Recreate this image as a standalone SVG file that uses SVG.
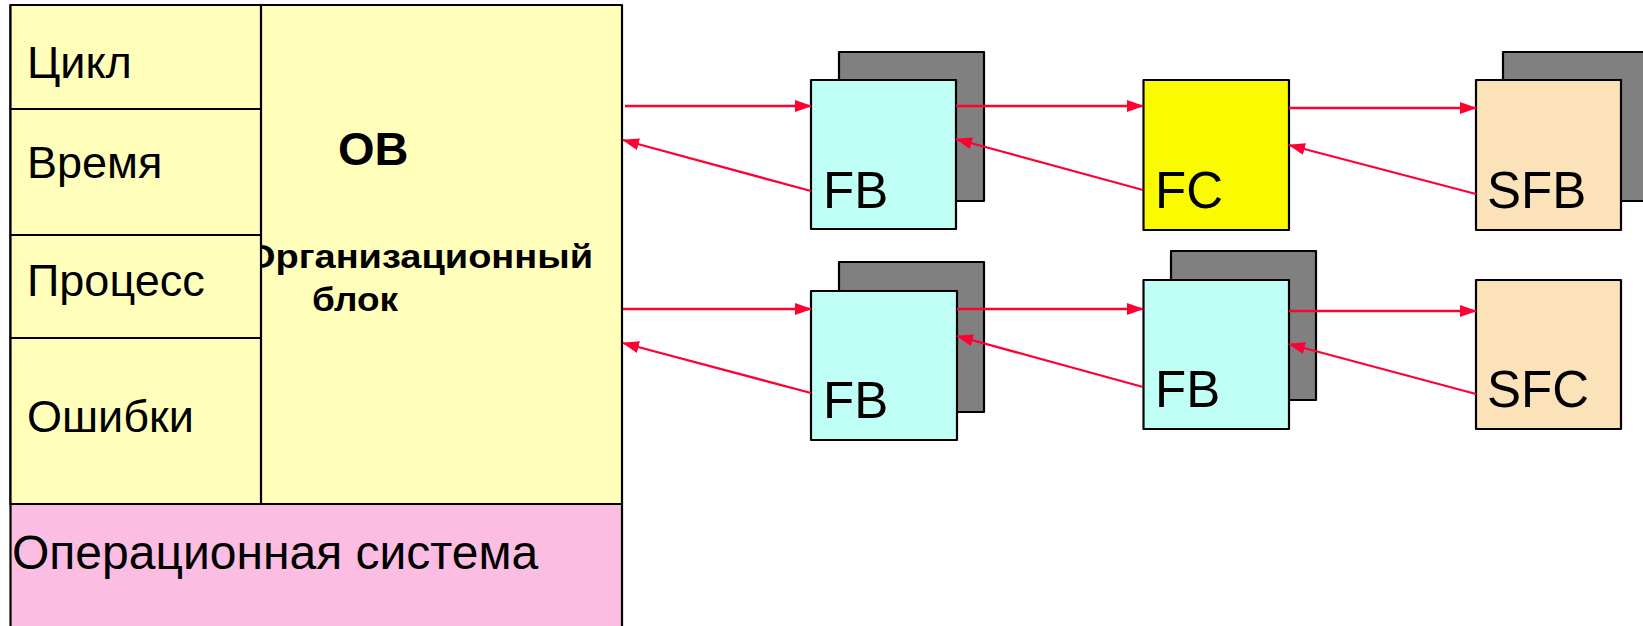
<svg xmlns="http://www.w3.org/2000/svg" width="1643" height="626" viewBox="0 0 1643 626">
  <style>
    .box { stroke: #000; stroke-width: 2.2; stroke-linejoin: round; }
    .cell { fill: #FFFFBB; }
    .os { fill: #FBBDE1; }
    .shadow { fill: #808080; }
    .fb { fill: #C0FFF6; }
    .fc { fill: #FAFA00; }
    .sys { fill: #FCE2B9; }
    .lbl { font-family: "Liberation Sans", Arial, sans-serif; font-size: 45px; fill: #000; }
    .oslbl { font-family: "Liberation Sans", Arial, sans-serif; font-size: 48px; fill: #000; }
    .blk { font-family: "Liberation Sans", Arial, sans-serif; font-size: 51px; fill: #000; }
    .bold { font-family: "Liberation Sans", Arial, sans-serif; font-weight: bold; fill: #000; }
    .wire { stroke: #FF0033; stroke-width: 2.3; fill: none; marker-end: url(#tip); }
  </style>
  <defs>
    <marker id="tip" viewBox="0 0 17 12" refX="16" refY="6" markerWidth="17" markerHeight="12" markerUnits="userSpaceOnUse" orient="auto">
      <path d="M0,0 L17,6 L0,12 z" fill="#FF0033"/>
    </marker>
  </defs>

  <rect width="1643" height="626" fill="#fff"/>

  <!-- Organisation block -->
  <g id="ob">
    <rect class="box cell" x="10.5" y="5" width="611.5" height="499"/>
    <text class="bold" x="338" y="165" font-size="47">OB</text>
    <text class="bold" x="246" y="268" font-size="34" textLength="347" lengthAdjust="spacingAndGlyphs">Организационный</text>
    <text class="bold" x="312" y="311" font-size="34" textLength="86" lengthAdjust="spacingAndGlyphs">блок</text>
  </g>

  <!-- Start-event cells -->
  <g id="cycle">
    <rect class="box cell" x="10.5" y="5" width="250.5" height="104"/>
    <text class="lbl" x="27" y="78">Цикл</text>
  </g>
  <g id="time">
    <rect class="box cell" x="10.5" y="109" width="250.5" height="126"/>
    <text class="lbl" x="27" y="178">Время</text>
  </g>
  <g id="process">
    <rect class="box cell" x="10.5" y="235" width="250.5" height="103"/>
    <text class="lbl" x="27" y="296">Процесс</text>
  </g>
  <g id="errors">
    <rect class="box cell" x="10.5" y="338" width="250.5" height="166"/>
    <text class="lbl" x="27" y="432">Ошибки</text>
  </g>

  <!-- Operating system -->
  <g id="os">
    <rect class="box os" x="10.5" y="504" width="611.5" height="140"/>
    <text class="oslbl" x="12" y="569">Операционная система</text>
  </g>

  <!-- Upper chain -->
  <g id="fb1">
    <rect class="box shadow" x="839" y="52" width="145" height="149"/>
    <rect class="box fb" x="811" y="80" width="145" height="149"/>
    <text class="blk" x="823" y="208">FB</text>
  </g>
  <g id="fc">
    <rect class="box fc" x="1143.5" y="80" width="145.5" height="150"/>
    <text class="blk" x="1155" y="208">FC</text>
  </g>
  <g id="sfb">
    <rect class="box shadow" x="1503" y="52" width="145" height="149"/>
    <rect class="box sys" x="1476" y="80" width="145" height="150"/>
    <text class="blk" x="1487" y="208">SFB</text>
  </g>

  <!-- Lower chain -->
  <g id="fb2">
    <rect class="box shadow" x="839" y="262" width="145" height="150"/>
    <rect class="box fb" x="811" y="291" width="146" height="149"/>
    <text class="blk" x="823" y="418">FB</text>
  </g>
  <g id="fb3">
    <rect class="box shadow" x="1171" y="251" width="145" height="149"/>
    <rect class="box fb" x="1143.5" y="280" width="145.5" height="149"/>
    <text class="blk" x="1155" y="407">FB</text>
  </g>
  <g id="sfc">
    <rect class="box sys" x="1476" y="280" width="145" height="149"/>
    <text class="blk" x="1487" y="407">SFC</text>
  </g>

  <!-- Calls and returns -->
  <g id="connectors">
    <line class="wire" x1="625" y1="106" x2="811" y2="106"/>
    <line class="wire" x1="811" y1="191" x2="623" y2="140"/>
    <line class="wire" x1="956" y1="106" x2="1143" y2="106"/>
    <line class="wire" x1="1143" y1="190" x2="956" y2="139"/>
    <line class="wire" x1="1289" y1="108" x2="1476" y2="108"/>
    <line class="wire" x1="1476" y1="194" x2="1289" y2="145"/>

    <line class="wire" x1="623" y1="309" x2="811" y2="309"/>
    <line class="wire" x1="811" y1="393" x2="623" y2="343"/>
    <line class="wire" x1="957" y1="309" x2="1143" y2="309"/>
    <line class="wire" x1="1143" y1="387" x2="957" y2="336"/>
    <line class="wire" x1="1289" y1="311" x2="1476" y2="311"/>
    <line class="wire" x1="1476" y1="394" x2="1289" y2="344"/>
  </g>
</svg>
